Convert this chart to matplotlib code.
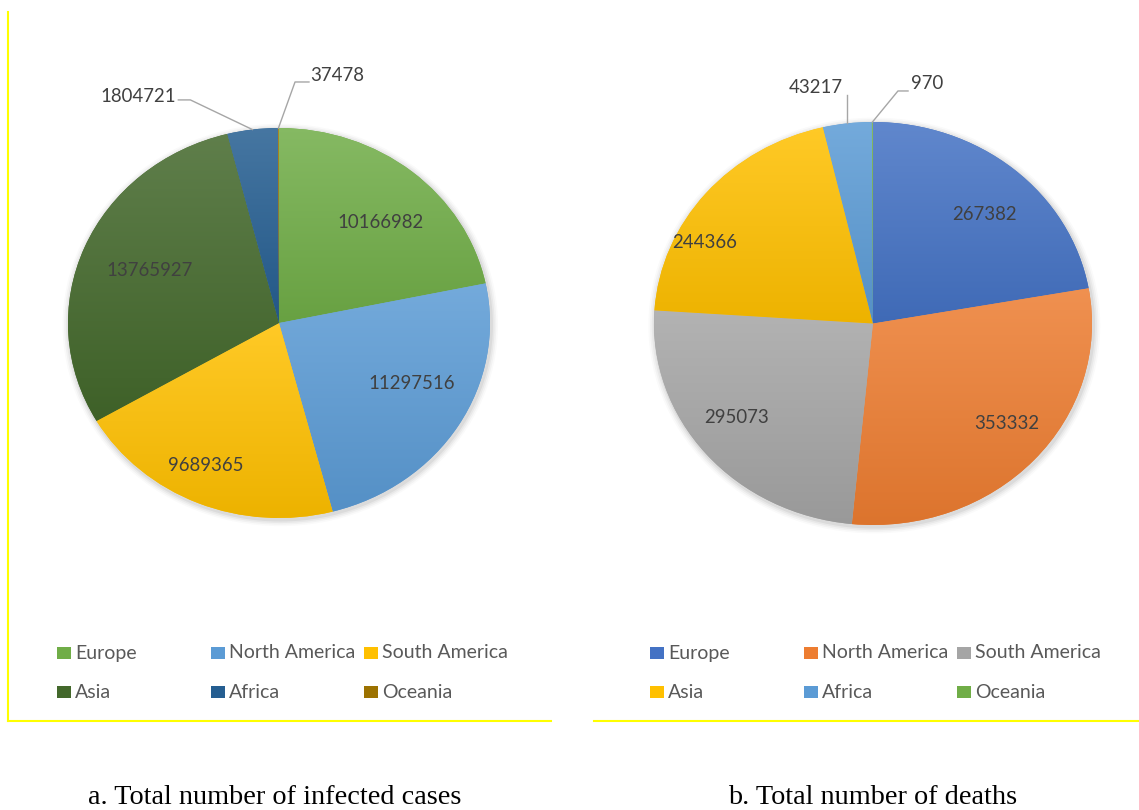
import numpy as np
import matplotlib
matplotlib.use("Agg")
import matplotlib.pyplot as plt
from matplotlib.patches import Rectangle, Ellipse
from matplotlib.lines import Line2D
from matplotlib.colors import to_rgb

# ---------------- data ----------------
regions = ["Europe", "North America", "South America", "Asia", "Africa", "Oceania"]
cases = [10166982, 11297516, 9689365, 13765927, 1804721, 37478]
deaths = [267382, 353332, 295073, 244366, 43217, 970]
title_cases = "a. Total number of infected cases"
title_deaths = "b. Total number of deaths"

colors_cases = ["#70AD47", "#5B9BD5", "#FFC000", "#43682B", "#255E91", "#9C7200"]
colors_deaths = ["#4472C4", "#ED7D31", "#A5A5A5", "#FFC000", "#5B9BD5", "#70AD47"]

# ---------------- layout (pixels) ----------------
W, H = 1139, 810
fig = plt.figure(figsize=(W / 100, H / 100), dpi=100)
fig.patch.set_facecolor("white")

LBL_FONT = "Lato"
TXT = "#404040"
L = 1.45
LBL_SIZE = 13.4
LEG_SIZE = 14

# inside labels: (angle shift in deg, radius); outside labels: leader geometry
inside_left = [(-4, 0.705), (5.4, 0.70), (-2.8, 0.81), (-1, 0.67)]
inside_right = [(-3.5, 0.742), (3.8, 0.786), (-3.3, 0.778), (12.7, 0.865)]
outside_left = [
    (4, [(-0.42, 1.144), (-0.477, 1.144)], (-0.49, 1.159), "right"),
    (5, [(0.076, 1.236), (0.142, 1.236)], (0.15, 1.267), "left"),
]
outside_right = [
    (4, [(None, 1.134)], (-0.263, 1.169), "center"),
    (5, [(0.114, 1.154), (0.16, 1.154)], (0.174, 1.189), "left"),
]


def mix(c, t, f):
    c = np.array(to_rgb(c)); t = np.array(to_rgb(t))
    return c * (1 - f) + t * f


def draw_pie(cx, cy, rx, ry, values, colors, inside, outside):
    ax = fig.add_axes([(cx - L * rx) / W, (H - cy - L * ry) / H,
                       2 * L * rx / W, 2 * L * ry / H])
    # soft shadow
    for k, a in enumerate([0.05, 0.04, 0.03, 0.02]):
        s = 1.0 + 0.008 * (k + 1)
        ax.add_patch(Ellipse((0.006, -0.01), 2 * s, 2 * s, facecolor="#000000",
                             alpha=a, edgecolor="none", zorder=0))
    wedges, _ = ax.pie(values, colors=colors, startangle=90, counterclock=False,
                       radius=1.0, wedgeprops=dict(linewidth=0, edgecolor="none"))
    for w, col in zip(wedges, colors):
        w.set_zorder(2)
        th = np.deg2rad(np.linspace(w.theta1, w.theta2, 200))
        ys = np.concatenate([np.sin(th), [0.0]])
        ymin, ymax = ys.min(), ys.max()
        if ymax - ymin < 1e-3:
            ymax = ymin + 1e-3
        top = mix(col, "white", 0.15)
        bot = mix(col, "black", 0.07)
        n = 64
        f = np.linspace(0, 1, n)[:, None]
        grad = top[None, :] * (1 - f) + bot[None, :] * f
        img = grad[:, None, :]
        im = ax.imshow(img, extent=[-1, 1, ymin, ymax], origin="upper",
                       aspect="auto", interpolation="bilinear", zorder=3)
        im.set_clip_path(w)
    # inside labels
    for i, (da, r) in enumerate(inside):
        w = wedges[i]
        mid = np.deg2rad((w.theta1 + w.theta2) / 2 + da)
        ax.text(r * np.cos(mid), r * np.sin(mid), f"{values[i]}", ha="center",
                va="center", fontsize=LBL_SIZE, color=TXT, family=LBL_FONT, zorder=5)
    # outside labels
    for i, pts, txy, ha in outside:
        w = wedges[i]
        mid = np.deg2rad((w.theta1 + w.theta2) / 2)
        ex, ey = np.cos(mid), np.sin(mid)
        xs, ys = [ex], [ey]
        for (px, py) in pts:
            xs.append(ex if px is None else px)
            ys.append(py)
        ax.plot(xs, ys, color="#A6A6A6", lw=1.0, zorder=4, clip_on=False)
        ax.text(txy[0], txy[1], f"{values[i]}", ha=ha, va="center", fontsize=LBL_SIZE,
                color=TXT, family=LBL_FONT, zorder=5)
    ax.set_aspect("auto")
    ax.set_xlim(-L, L)
    ax.set_ylim(-L, L)
    ax.axis("off")
    return ax


draw_pie(279, 323, 211, 195, cases, colors_cases, inside_left, outside_left)
draw_pie(873, 323.5, 219, 201.5, deaths, colors_deaths, inside_right, outside_right)


# ---------------- legends ----------------
def legend(xcols, colors):
    rows = [653, 692]
    for i, (name, col) in enumerate(zip(regions, colors)):
        x = xcols[i % 3]
        y = rows[i // 3]
        fig.add_artist(Rectangle((x / W, (H - y - 6) / H), 14 / W, 12 / H,
                                 transform=fig.transFigure, facecolor=col,
                                 edgecolor="none"))
        fig.text((x + 18) / W, (H - y) / H, name, ha="left", va="center",
                 fontsize=LEG_SIZE, color="#595959", family=LBL_FONT)


legend([57, 211, 364], colors_cases)
legend([650, 804, 957], colors_deaths)

# ---------------- frame lines ----------------
ycol = "#FFFF00"
fig.add_artist(Line2D([8 / W, 8 / W], [(H - 12) / H, (H - 721) / H],
                      transform=fig.transFigure, color=ycol, lw=1.5))
fig.add_artist(Line2D([8 / W, 551 / W], [(H - 721) / H] * 2,
                      transform=fig.transFigure, color=ycol, lw=1.5))
fig.add_artist(Line2D([594 / W, 1139 / W], [(H - 721) / H] * 2,
                      transform=fig.transFigure, color=ycol, lw=1.5))

# ---------------- titles ----------------
fig.text(275 / W, (H - 797) / H, title_cases, ha="center", va="center",
         fontsize=20.3, family="Liberation Serif", color="#000000")
fig.text(873 / W, (H - 797) / H, title_deaths, ha="center", va="center",
         fontsize=20.3, family="Liberation Serif", color="#000000")

fig.savefig("out.png", dpi=100, facecolor="white")
